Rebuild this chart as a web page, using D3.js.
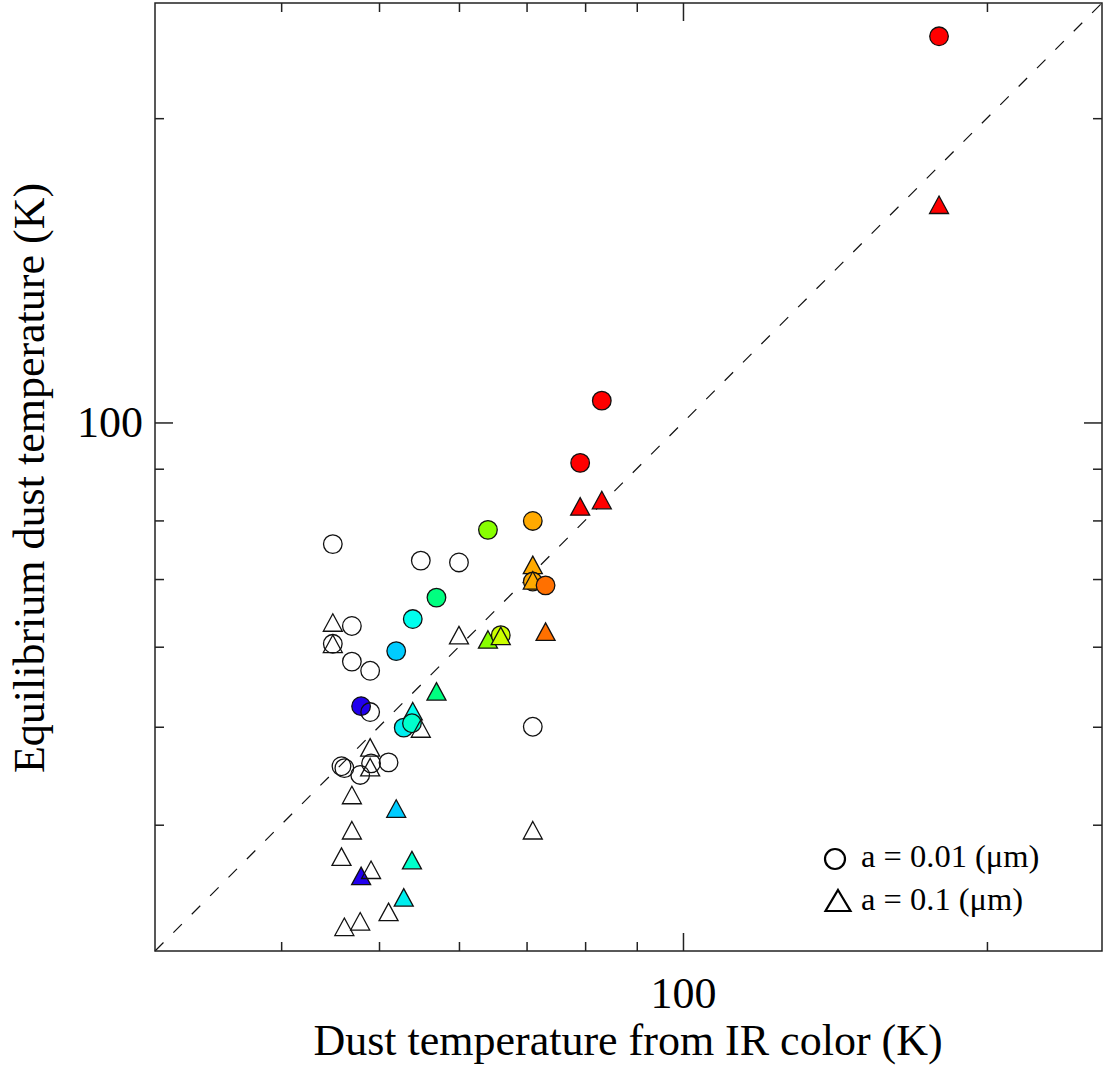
<!DOCTYPE html>
<html>
<head>
<meta charset="utf-8">
<script src="https://cdn.jsdelivr.net/npm/d3@7"></script>
<style>
  body { margin: 0; background: #fff; }
  svg { display: block; }
</style>
</head>
<body>
<div id="chart"></div>
<script>
// dust temperature from IR colour (x) vs equilibrium temperature (y)
// one entry per source: circle = a 0.01 um, triangle = a 0.1 um
const tIR = [179.3, 83.1, 79.1, 71.0, 71.0, 73.1, 64.1, 66.0, 57.0, 54.0, 52.0, 48.0, 52.9, 53.9,
             45.0, 45.0, 55.0, 60.0, 47.0, 47.0, 49.0, 49.0, 49.1, 71.0, 45.9, 46.2, 51.1, 47.9];
const tEqSmall = [241.0, 105.1, 91.2, 79.9, 69.6, 69.0, 78.3, 61.6, 67.1, 63.9, 59.4, 52.4, 49.9, 50.4,
                  75.8, 60.4, 73.0, 72.7, 62.9, 58.0, 56.8, 51.7, 46.0, 50.0, 45.7, 45.5, 46.1, 44.8];
const tEqLarge = [164.2, 83.8, 82.6, 72.3, 69.8, 62.1, 61.0, 61.5, 54.2, 51.8, 41.5, 35.6, 33.9, 36.9,
                  63.4, 60.4, 49.8, 61.6, 42.8, 39.5, 47.7, 45.6, 36.1, 39.5, 37.2, 31.7, 32.8, 32.1];
const srcColor = ["#ff0000", "#ff0000", "#ff0000", "#ffaa00", "#ffaa00", "#ff7000", "#88ff00", "#ccff00",
                  "#00ff80", "#00ffee", "#00ccff", "#2200ee", "#00eeee", "#00ffcc",
                  "none", "none", "none", "none", "none", "none", "none", "none", "none", "none",
                  "none", "none", "none", "none"];

const majorTicks = [100];
const minorTicks = [40, 50, 60, 70, 80, 90, 200];
const legendLabels = ["a = 0.01 (\u03bcm)", "a = 0.1 (\u03bcm)"];

const W = 1103, H = 1067;
const margin = { top: 3, right: 1, bottom: 116, left: 155 };
const width = W - margin.left - margin.right;
const height = H - margin.top - margin.bottom;
const font = "'Liberation Serif', 'Times New Roman', serif";

const svg = d3.select("#chart").append("svg")
    .attr("width", W)
    .attr("height", H);

const x = d3.scaleLog().domain([30, 260]).range([margin.left, margin.left + width]);
const y = d3.scaleLog().domain([30, 260]).range([margin.top + height, margin.top]);

// 1:1 line
svg.append("line")
    .attr("x1", x(30)).attr("y1", y(30))
    .attr("x2", x(260)).attr("y2", y(260))
    .attr("stroke", "#111")
    .attr("stroke-width", 1.2)
    .attr("stroke-dasharray", "12,14");

// frame
svg.append("rect")
    .attr("x", margin.left).attr("y", margin.top)
    .attr("width", width).attr("height", height)
    .attr("fill", "none")
    .attr("stroke", "#222")
    .attr("stroke-width", 1.5);

// ticks on all four sides, pointing inward
function addAxis(axisFn, scale, tr, vals, size, labelled) {
    const g = svg.append("g")
        .attr("transform", tr)
        .call(axisFn(scale).tickValues(vals).tickSizeInner(-size).tickSizeOuter(0)
            .tickPadding(12)
            .tickFormat(labelled ? d3.format("d") : () => ""));
    g.select(".domain").remove();
    g.selectAll(".tick line").attr("stroke", "#222").attr("stroke-width", 1.5);
    g.selectAll(".tick text")
        .attr("font-family", font)
        .attr("font-size", 44)
        .attr("fill", "#000");
    return g;
}
const bottomY = margin.top + height;
const rightX = margin.left + width;
const xb = addAxis(d3.axisBottom, x, `translate(0,${bottomY})`, majorTicks, 18, true);
xb.selectAll(".tick text").attr("y", 57).attr("dy", 0);
addAxis(d3.axisBottom, x, `translate(0,${bottomY})`, minorTicks, 9, false);
addAxis(d3.axisTop, x, `translate(0,${margin.top})`, majorTicks, 18, false);
addAxis(d3.axisTop, x, `translate(0,${margin.top})`, minorTicks, 9, false);
addAxis(d3.axisLeft, y, `translate(${margin.left},0)`, majorTicks, 18, true);
addAxis(d3.axisLeft, y, `translate(${margin.left},0)`, minorTicks, 9, false);
addAxis(d3.axisRight, y, `translate(${rightX},0)`, majorTicks, 18, false);
addAxis(d3.axisRight, y, `translate(${rightX},0)`, minorTicks, 9, false);

// triangle shape, centred on its bounding box
const tri = (w, h) => `M0,${-h / 2}L${w / 2},${h / 2}L${-w / 2},${h / 2}Z`;

// markers: circle then triangle for each source
const pts = svg.append("g");
tIR.forEach((t, i) => {
    pts.append("circle")
        .attr("cx", x(t))
        .attr("cy", y(tEqSmall[i]))
        .attr("r", 9.3)
        .attr("fill", srcColor[i])
        .attr("stroke", "#111")
        .attr("stroke-width", 1.3);
    pts.append("path")
        .attr("d", tri(19, 17.5))
        .attr("transform", `translate(${x(t)},${y(tEqLarge[i])})`)
        .attr("fill", srcColor[i])
        .attr("stroke", "#111")
        .attr("stroke-width", 1.3)
        .attr("stroke-linejoin", "miter");
});

// legend
const leg = svg.append("g");
leg.append("circle")
    .attr("cx", 835).attr("cy", 859).attr("r", 10)
    .attr("fill", "none").attr("stroke", "#000").attr("stroke-width", 2.2);
leg.append("path")
    .attr("d", tri(25, 21))
    .attr("transform", "translate(838,900.5)")
    .attr("fill", "none").attr("stroke", "#000").attr("stroke-width", 2.2);
leg.selectAll("text.leg")
    .data(legendLabels)
    .enter().append("text")
    .attr("class", "leg")
    .attr("x", 861)
    .attr("y", (d, i) => 867 + i * 43)
    .attr("font-family", font)
    .attr("font-size", 32.5)
    .text(d => d);

// axis titles
svg.append("text")
    .attr("x", 628).attr("y", 1055)
    .attr("text-anchor", "middle")
    .attr("font-family", font)
    .attr("font-size", 44)
    .text("Dust temperature from IR color (K)");

svg.append("text")
    .attr("transform", "rotate(-90)")
    .attr("x", -478).attr("y", 44)
    .attr("text-anchor", "middle")
    .attr("font-family", font)
    .attr("font-size", 44)
    .text("Equilibrium dust temperature (K)");
</script>
</body>
</html>
